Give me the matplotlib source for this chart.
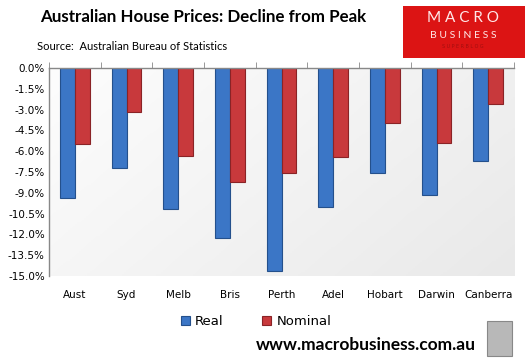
import numpy as np
import matplotlib
matplotlib.use("Agg")
import matplotlib.pyplot as plt
from matplotlib.patches import Rectangle

cities = ["Aust", "Syd", "Melb", "Bris", "Perth", "Adel", "Hobart", "Darwin", "Canberra"]
real = [-9.35, -7.2, -10.2, -12.25, -14.65, -10.0, -7.55, -9.15, -6.7]
nominal = [-5.45, -3.2, -6.35, -8.2, -7.6, -6.45, -3.95, -5.4, -2.6]
yticks = [0.0, -1.5, -3.0, -4.5, -6.0, -7.5, -9.0, -10.5, -12.0, -13.5, -15.0]

BLUE = "#3b76c6"
BLUE_EDGE = "#24508c"
RED = "#c8393c"
RED_EDGE = "#8a2326"

fig = plt.figure(figsize=(5.32, 3.64), dpi=100)
fig.patch.set_facecolor("white")
ax = fig.add_axes([0.0921, 0.2418, 0.8741, 0.5714])

x = np.arange(len(cities))
w = 0.29

# plot-area gradient (white top-left -> light grey)
gx, gy = np.meshgrid(np.linspace(0, 1, 200), np.linspace(0, 1, 100))
grad = 0.65 * gx + 0.35 * gy
ax.imshow(grad, extent=[-0.5, len(cities) - 0.5, -15, 0], aspect="auto",
          cmap=matplotlib.colors.LinearSegmentedColormap.from_list("bg", ["#fdfdfd", "#e9e9e9"]),
          origin="upper", zorder=0)

ax.bar(x - w / 2, real, w, color=BLUE, edgecolor=BLUE_EDGE, linewidth=0.8, zorder=2, label="Real")
ax.bar(x + w / 2, nominal, w, color=RED, edgecolor=RED_EDGE, linewidth=0.8, zorder=2, label="Nominal")

ax.set_xlim(-0.5, len(cities) - 0.5)
ax.set_ylim(-15, 0)
ax.set_yticks(yticks)
ax.set_yticklabels([f"{v:.1f}%" for v in yticks], fontsize=7.5)
ax.set_xticks(x)
ax.set_xticklabels(cities, fontsize=7.5)
ax.set_xticks(np.arange(-0.5, len(cities)), minor=True)
ax.tick_params(axis="x", which="major", length=0, pad=10)
ax.tick_params(axis="x", which="minor", bottom=False, top=True, length=4, color="#888888")
ax.tick_params(axis="y", length=0, pad=3)

for s in ["right", "bottom"]:
    ax.spines[s].set_visible(False)
for s in ["left", "top"]:
    ax.spines[s].set_color("#888888")
    ax.spines[s].set_linewidth(1.0)

leg = ax.legend(loc="upper center", bbox_to_anchor=(0.445, -0.13), ncol=2, frameon=False,
                fontsize=9.5, handlelength=0.7, handleheight=0.7, columnspacing=2.9, handletextpad=0.4)

fig.text(40 / 532, 1 - 17 / 364, "Australian House Prices: Decline from Peak", fontsize=12.2,
         fontweight="bold", family="Lato", ha="left", va="center")
fig.text(37 / 532, 1 - 46 / 364, "Source:  Australian Bureau of Statistics", fontsize=8,
         family="Lato", ha="left", va="center")

# logo box
fig.patches.append(Rectangle((403 / 532, 1 - 58 / 364), 122 / 532, 52 / 364,
                             transform=fig.transFigure, facecolor="#dc1414",
                             edgecolor="none", zorder=5))
fig.text(463 / 532, 1 - 18 / 364, "M A C R O", color="#ffe8e8", fontsize=11,
         family="Lato", ha="center", va="center", zorder=6)
fig.text(463 / 532, 1 - 35 / 364, "B U S I N E S S", color="#ffe8e8", fontsize=7.5,
         family="Lato", ha="center", va="center", zorder=6)
fig.text(463 / 532, 1 - 47 / 364, "S U P E R B L O G", color="#a30f0f", fontsize=3.5,
         ha="center", va="center", zorder=6)

fig.text(476 / 532, 1 - 345 / 364, "www.macrobusiness.com.au", fontsize=12.5,
         fontweight="bold", family="Lato", ha="right", va="center")
# wolf image placeholder
fig.patches.append(Rectangle((487 / 532, 1 - 356 / 364), 25 / 532, 35 / 364,
                             transform=fig.transFigure, facecolor="#b8b8b8",
                             edgecolor="#888888", linewidth=0.8))

fig.savefig("out.png", dpi=100)
